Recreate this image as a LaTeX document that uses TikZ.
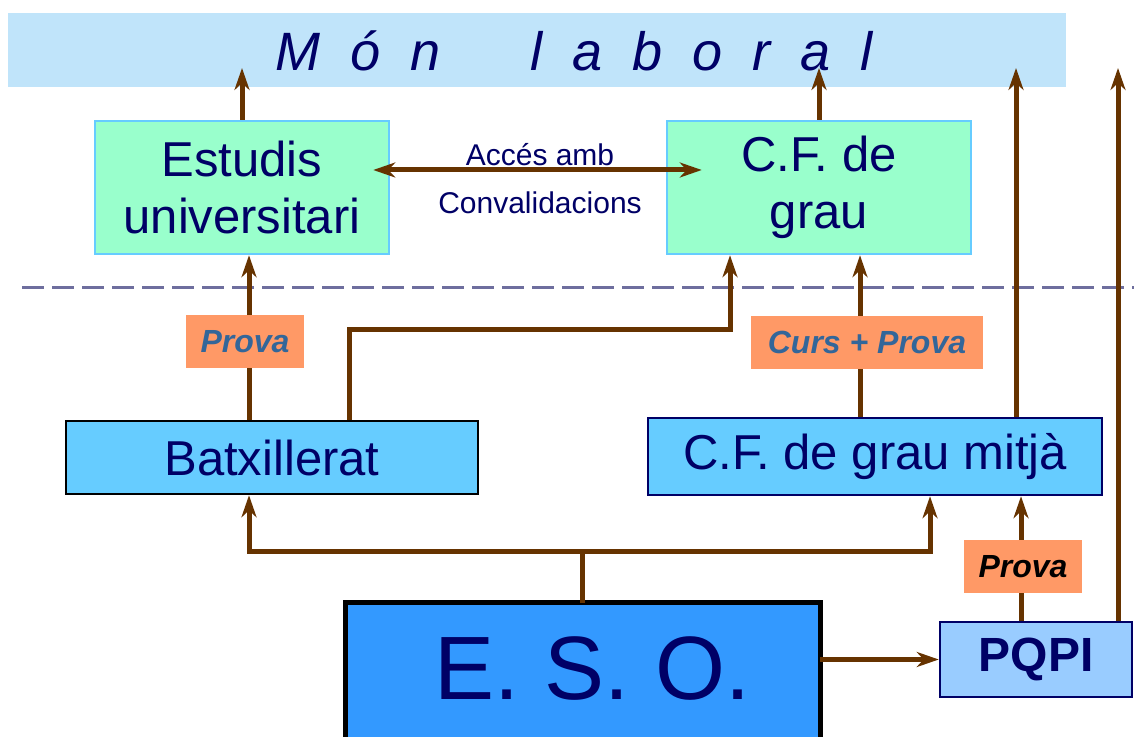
\documentclass[tikz,border=0pt]{standalone}
\usepackage{fontspec}
\setmainfont{Liberation Sans}
\usetikzlibrary{arrows.meta, positioning}

\definecolor{navy}{HTML}{000066}
\definecolor{steel}{HTML}{336699}
\definecolor{earth}{HTML}{663300}
\definecolor{bandblue}{RGB}{192,228,250}
\definecolor{mint}{HTML}{99FFCC}
\definecolor{skyline}{HTML}{66CCFF}
\definecolor{levelblue}{HTML}{66CCFF}
\definecolor{esoblue}{HTML}{3399FF}
\definecolor{pqblue}{HTML}{99CCFF}
\definecolor{salmon}{HTML}{FF9966}
\definecolor{dashgray}{HTML}{6E6E9E}

\newcommand{\lsp}{\hspace{30pt}}

\begin{document}
\begin{tikzpicture}[x=1pt, y=1pt,
    box/.style={draw, inner sep=0pt, text=navy, align=center, font=\fontsize{49}{57}\selectfont},
    studybox/.style={box, fill=mint, draw=skyline, line width=2.5pt, minimum height=133pt},
    levelbox/.style={box, fill=levelblue, line width=2.5pt},
    tag/.style={fill=salmon, inner sep=0pt, minimum width=118pt, minimum height=53pt, text=steel, font=\fontsize{32}{38}\selectfont\bfseries\itshape},
    note/.style={text=navy, inner sep=0pt, font=\fontsize{30}{34}\selectfont},
    link/.style={draw=earth, line width=5pt},
    arrowlink/.style={link, -{Stealth[length=22pt, width=15pt, inset=7pt]}},
    dashline/.style={draw=dashgray, line width=3pt, dash pattern=on 22pt off 8pt}]

    \useasboundingbox (0,0) rectangle (1134,736);
    \clip (0,0) rectangle (1134,736);

    \node[fill=bandblue, inner sep=0pt, minimum width=1058pt, minimum height=74pt] (mon) at (537,686) {};
    \node[anchor=base, inner sep=0pt, text=navy, font=\fontsize{54}{60}\selectfont\itshape] (montext) at (574,665)
        {M\lsp ó\lsp n\hspace{90pt}l\lsp a\lsp b\lsp o\lsp r\lsp a\lsp l};
    \coordinate (top) at (0,668);

    \node[studybox, minimum width=294pt] (uni) at (242,548.5) {Estudis\\universitari};
    \node[studybox, minimum width=304pt] (cfs) at (819,548.5) {C.F. de\\grau};

    \node[levelbox, draw=black, minimum width=412pt, minimum height=73pt] (batx) at (272,278.5) {Batxillerat};
    \node[levelbox, draw=navy, minimum width=454pt, minimum height=77pt] (cfm) at (875,279.5) {C.F. de grau mitjà};

    \node[box, fill=esoblue, draw=black, line width=5pt, outer sep=0pt, anchor=north, minimum width=475pt,
        text height=96pt, text depth=60pt, font=\fontsize{90}{100}\selectfont] (eso) at (582.5,133) {\hspace*{20pt}E. S. O.};
    \node[box, fill=pqblue, draw=navy, line width=2.5pt, minimum width=192pt, minimum height=75pt,
        font=\fontsize{48}{56}\selectfont\bfseries] (pqpi) at (1036,76.5) {PQPI};

    \draw[dashline] (22,448) -- (1134,448);

    \coordinate (cfmout) at ([xshift=141pt]cfm.north);
    \coordinate (pqout) at ([xshift=82pt]pqpi.north);
    \draw[arrowlink] (uni.north) -- (uni.north |- top);
    \draw[arrowlink] (cfs.north) -- (cfs.north |- top);
    \draw[arrowlink] (cfmout) -- (cfmout |- top);
    \draw[arrowlink] (pqout) -- (pqout |- top);

    \coordinate (accl) at ([shift={(-17pt,17.5pt)}]uni.east);
    \coordinate (accr) at ([shift={(36pt,17.5pt)}]cfs.west);
    \draw[link, {Stealth[length=22pt, width=15pt, inset=7pt]}-{Stealth[length=22pt, width=15pt, inset=7pt]}] (accl) -- (accr);
    \node[note] (acc) at (540,581) {Accés amb};
    \node[note] (conv) at (540,533) {Convalidacions};

    \coordinate (b1) at ([xshift=-23pt]batx.north);
    \coordinate (b2) at ([xshift=77pt]batx.north);
    \coordinate (c1) at ([xshift=-89pt]cfs.south);
    \coordinate (m1) at ([xshift=-15pt]cfm.north);
    \draw[arrowlink] (b1) -- (b1 |- uni.south);
    \draw[arrowlink] (b2) -- ++(0,90) -| (c1);
    \draw[arrowlink] (m1) -- (m1 |- cfs.south);

    \coordinate (e1) at ([xshift=-23pt]batx.south);
    \coordinate (e2) at ([xshift=55pt]cfm.south);
    \draw[link] (eso.north) -- ++(0,51) coordinate (split);
    \draw[arrowlink] (split) -| (e1);
    \draw[arrowlink] (split) -| (e2);
    \draw[arrowlink] (eso.east |- pqpi.west) -- (pqpi.west);

    \coordinate (p1) at ([xshift=-15pt]pqpi.north);
    \draw[arrowlink] (p1) -- (p1 |- cfm.south);

    \node[tag] (prova) at (245,394.5) {Prova};
    \node[tag, minimum width=232pt] (curs) at (867,393.5) {Curs + Prova};
    \node[tag, text=black] (provapq) at (1023,169.5) {Prova};

\end{tikzpicture}
\end{document}
